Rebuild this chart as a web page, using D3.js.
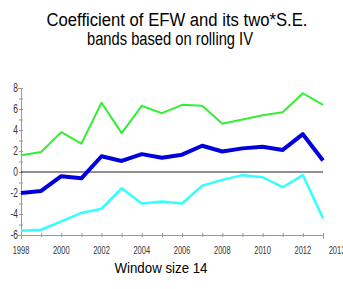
<!DOCTYPE html>
<html>
<head>
<meta charset="utf-8">
<script src="https://cdn.jsdelivr.net/npm/d3@7"></script>
<style>
  body { margin: 0; background: #fff; }
  svg { display: block; font-family: "Liberation Sans", Arial, sans-serif; }
</style>
</head>
<body>
<div id="chart"></div>
<script>
const years = [1998, 1999, 2000, 2001, 2002, 2003, 2004, 2005, 2006, 2007, 2008, 2009, 2010, 2011, 2012, 2013];
const upper = [1.6, 1.9, 3.8, 2.7, 6.6, 3.7, 6.3, 5.6, 6.4, 6.3, 4.6, 5.0, 5.4, 5.7, 7.5, 6.4];
const coef  = [-2.0, -1.8, -0.4, -0.6, 1.5, 1.05, 1.7, 1.35, 1.65, 2.5, 1.95, 2.25, 2.4, 2.1, 3.6, 1.1];
const lower = [-5.6, -5.5, -4.7, -3.9, -3.5, -1.55, -3.0, -2.8, -3.0, -1.3, -0.75, -0.3, -0.5, -1.45, -0.3, -4.4];
const yTicks = [-6, -4, -2, 0, 2, 4, 6, 8];
const xTicks = [1998, 2000, 2002, 2004, 2006, 2008, 2010, 2012, 2013];

const width = 343;
const height = 289;
const margin = { top: 88, right: 20, bottom: 54, left: 21 };

const svg = d3.select('#chart')
  .append('svg')
  .attr('width', width)
  .attr('height', height);

const x = d3.scaleLinear()
  .domain([1998, 2013])
  .range([margin.left, width - margin.right]);

const y = d3.scaleLinear()
  .domain([-6, 8])
  .range([height - margin.bottom, margin.top]);

// titles
svg.append('text')
  .attr('x', 177).attr('y', 25.5)
  .attr('text-anchor', 'middle')
  .attr('font-size', 18)
  .attr('textLength', 261)
  .attr('lengthAdjust', 'spacingAndGlyphs')
  .text('Coefficient of EFW and its two*S.E.');

svg.append('text')
  .attr('x', 170).attr('y', 45)
  .attr('text-anchor', 'middle')
  .attr('font-size', 18)
  .attr('textLength', 166)
  .attr('lengthAdjust', 'spacingAndGlyphs')
  .text('bands based on rolling IV');

svg.append('text')
  .attr('x', 161).attr('y', 273)
  .attr('text-anchor', 'middle')
  .attr('font-size', 14.5)
  .attr('textLength', 93)
  .attr('lengthAdjust', 'spacingAndGlyphs')
  .text('Window size 14');

// axes
function xAxis(g) {
  g.attr('transform', `translate(0,${y(-6)})`)
    .call(d3.axisBottom(x).tickValues(years).tickSize(4).tickFormat(''));
  g.select('.domain').attr('stroke', '#999');
  g.selectAll('.tick line').attr('stroke', '#999').attr('y1', -2).attr('y2', 2);
}

function xLabels(g) {
  const lx = d => x(d) + (d === 2013 ? 14 : 0);
  g.selectAll('text')
    .data(xTicks)
    .join('text')
    .attr('x', lx)
    .attr('y', y(-6) + 19)
    .attr('text-anchor', 'middle')
    .attr('font-size', 10)
    .attr('fill', '#333')
    .attr('transform', d => `translate(${lx(d)},0) scale(0.75,1) translate(${-lx(d)},0)`)
    .text(d => d);
}

function yAxis(g) {
  g.attr('transform', `translate(${margin.left},0)`)
    .call(d3.axisLeft(y).ticks(14).tickSize(3).tickFormat(''));
  g.select('.domain').attr('stroke', '#999');
  g.selectAll('.tick line').attr('stroke', '#999').attr('x1', -2).attr('x2', 2);
}

function yLabels(g) {
  g.selectAll('text')
    .data(yTicks)
    .join('text')
    .attr('x', margin.left - 3)
    .attr('y', d => y(d) + 4)
    .attr('text-anchor', 'end')
    .attr('font-size', 12)
    .attr('fill', '#333')
    .attr('transform', `translate(${margin.left - 3},0) scale(0.7,1) translate(${-(margin.left - 3)},0)`)
    .text(d => d);
}

svg.append('g').call(xAxis);
svg.append('g').call(yAxis);
svg.append('g').call(xLabels);
svg.append('g').call(yLabels);

// zero line
svg.append('line')
  .attr('x1', x(1998)).attr('x2', x(2013))
  .attr('y1', y(0)).attr('y2', y(0))
  .attr('stroke', '#222')
  .attr('stroke-width', 1);

const line = d3.line()
  .x((d, i) => x(years[i]))
  .y(d => y(d));

const series = [
  { values: lower, color: '#33ffff', w: 2.5 },
  { values: upper, color: '#33ee33', w: 2 },
  { values: coef,  color: '#0000dd', w: 4 }
];

svg.append('g')
  .selectAll('path')
  .data(series)
  .join('path')
  .attr('d', d => line(d.values))
  .attr('fill', 'none')
  .attr('stroke', d => d.color)
  .attr('stroke-width', d => d.w)
  .attr('stroke-linejoin', 'round');
</script>
</body>
</html>
